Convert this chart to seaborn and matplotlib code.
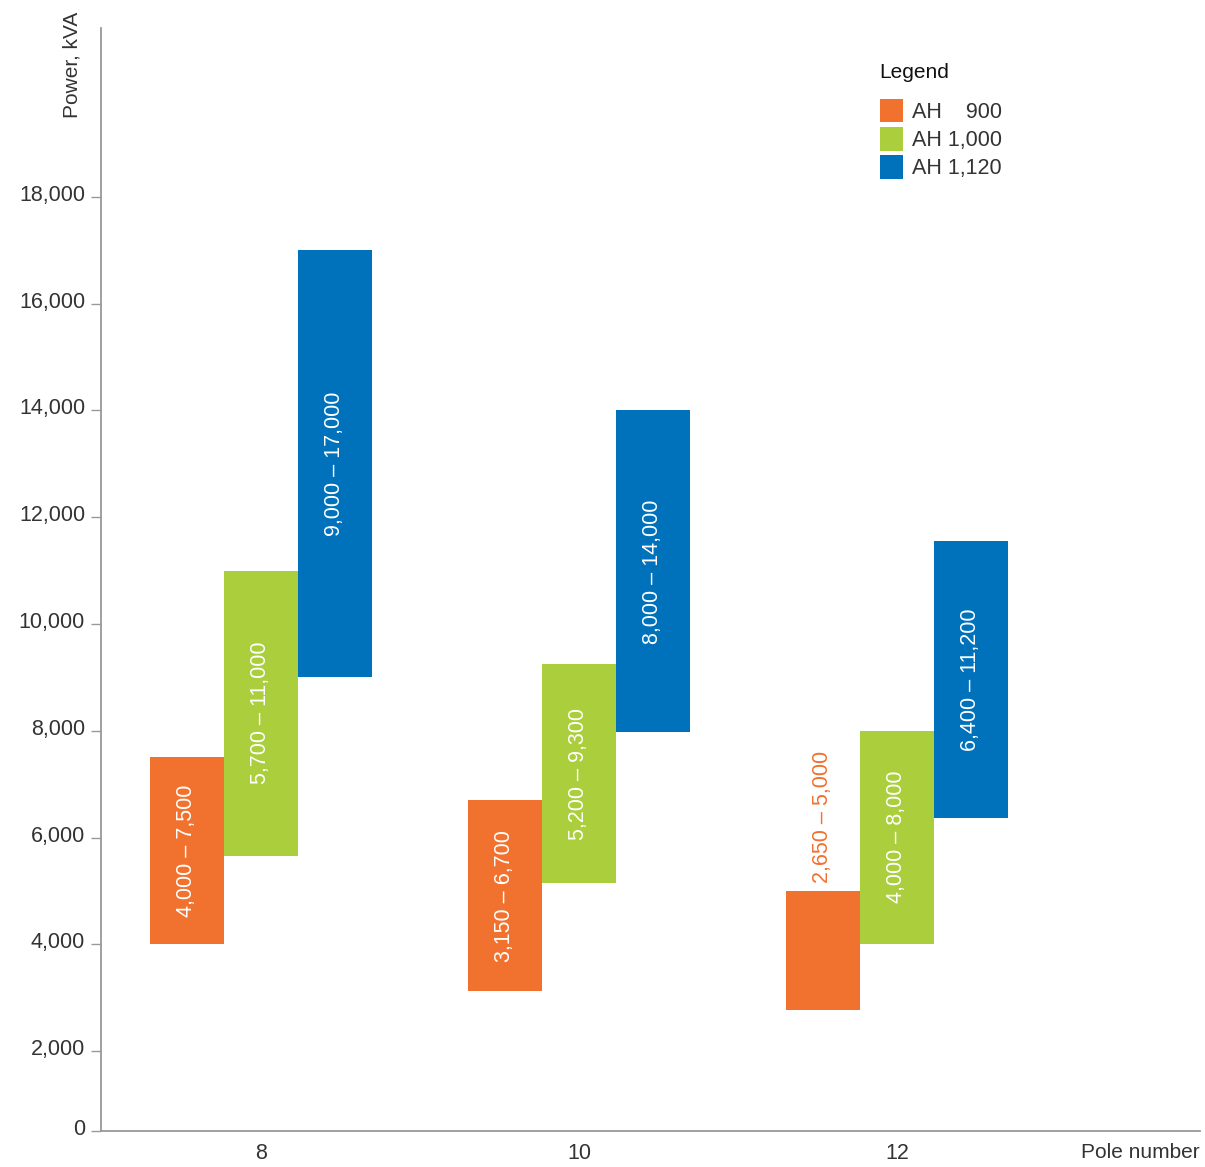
import matplotlib
matplotlib.use("Agg")
import matplotlib.pyplot as plt
import seaborn as sns
import pandas as pd
from matplotlib.patches import Patch
from matplotlib.transforms import ScaledTranslation

# ---- data ----
poles = ["8", "10", "12"]
series = ["AH 900", "AH 1,000", "AH 1,120"]
legend_labels = ["AH    900", "AH 1,000", "AH 1,120"]
low_900 = [4000, 3120, 2770]
high_900 = [7500, 6700, 5000]
low_1000 = [5660, 5140, 4010]
high_1000 = [11000, 9250, 8000]
low_1120 = [9000, 7970, 6360]
high_1120 = [17000, 14000, 11560]
label_900 = ["4,000 – 7,500", "3,150 – 6,700", "2,650 – 5,000"]
label_1000 = ["5,700 – 11,000", "5,200 – 9,300", "4,000 – 8,000"]
label_1120 = ["9,000 – 17,000", "8,000 – 14,000", "6,400 – 11,200"]
colors = ["#F1712F", "#AACE3C", "#0071BB"]
ytick_vals = [2000, 4000, 6000, 8000, 10000, 12000, 14000, 16000, 18000]
ytick_labels = ["2,000", "4,000", "6,000", "8,000", "10,000", "12,000",
                "14,000", "16,000", "18,000"]
y_bottom = 502
y_top = 21165

lows = [low_900, low_1000, low_1120]
highs = [high_900, high_1000, high_1120]
labels = [label_900, label_1000, label_1120]

rows = []
for s, lo, hi in zip(series, lows, highs):
    for p, l, h in zip(poles, lo, hi):
        rows.append({"pole": p, "series": s, "low": l, "span": h - l})
df = pd.DataFrame(rows)

sns.set_theme(style="white")
plt.rcParams["font.family"] = ["Liberation Sans", "DejaVu Sans"]

fig = plt.figure(figsize=(12.05, 11.67), dpi=100)
ax = fig.add_axes([101 / 1205, 1 - 1131 / 1167, 1099 / 1205, 1103 / 1167])

sns.barplot(data=df, x="pole", y="span", hue="series", order=poles,
            hue_order=series, palette=colors, width=0.698, saturation=1,
            legend=False, linewidth=0, ax=ax)

# floating bars: set each bar's base at its low value
for cont, lo in zip(ax.containers, lows):
    for patch, l in zip(cont.patches, lo):
        patch.set_y(l)

# bar labels
for cont, lo, hi, labs, c in zip(ax.containers, lows, highs, labels, colors):
    for patch, l, h, lab in zip(cont.patches, lo, hi, labs):
        cx = patch.get_x() + patch.get_width() / 2
        if h - l < 3000:
            ax.annotate(lab, (cx, h), xytext=(0, 6), textcoords="offset points",
                        rotation=90, ha="center", va="bottom", color=c,
                        fontsize=15.5)
        else:
            ax.text(cx, (l + h) / 2, lab, rotation=90, ha="center",
                    va="center", color="white", fontsize=15.5)

ax.set_xlim(-0.503, 2.953)
ax.set_ylim(y_bottom, y_top)
ax.set_yticks([y_bottom] + ytick_vals)
ax.set_yticklabels(["0"] + ytick_labels)
ax.set_xlabel("")
ax.set_ylabel("")

for side in ["top", "right"]:
    ax.spines[side].set_visible(False)
for side in ["left", "bottom"]:
    ax.spines[side].set_color("#999999")
    ax.spines[side].set_linewidth(1.3)

ax.tick_params(axis="y", length=7.2, width=1, color="#999999", pad=4.3,
               labelsize=15.5, labelcolor="#333333", left=True)
ax.tick_params(axis="x", length=0, pad=8.5, labelsize=15.5,
               labelcolor="#333333")
shift = ScaledTranslation(0, 4 / 100, fig.dpi_scale_trans)
for lbl in ax.get_yticklabels():
    lbl.set_transform(lbl.get_transform() + shift)

fig.text(72 / 1205, 1 - 12 / 1167, "Power, kVA", rotation=90, ha="center",
         va="top", fontsize=15, color="#333333")
fig.text(1200 / 1205, 1 - 1152 / 1167, "Pole number", ha="right",
         va="center", fontsize=15, color="#333333")

fig.text(879 / 1205, 1 - 72 / 1167, "Legend", ha="left", va="center",
         fontsize=15, color="#111111")
handles = [Patch(facecolor=c, edgecolor="none") for c in colors]
leg = ax.legend(handles, legend_labels, loc="upper left",
                bbox_to_anchor=(880 / 1205, 1 - 99 / 1167),
                bbox_transform=fig.transFigure, frameon=False, fontsize=15.5,
                handlelength=1.07, handleheight=1.3, handletextpad=0.42,
                labelspacing=0.2, borderpad=0, borderaxespad=0)
for t in leg.get_texts():
    t.set_color("#333333")

fig.savefig("out.png", dpi=100)
